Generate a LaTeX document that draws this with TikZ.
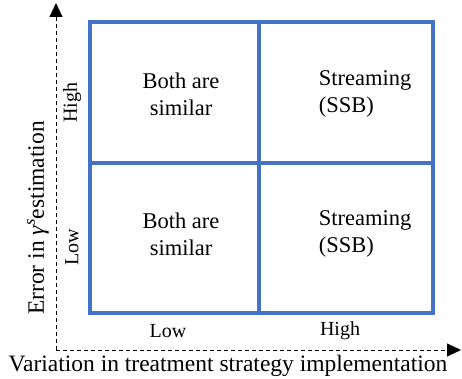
\documentclass[tikz,border=0pt]{standalone}
\usepackage{fontspec}
\setmainfont{Liberation Serif}
\usetikzlibrary{arrows.meta}
\definecolor{gridblue}{HTML}{4472C4}
\tikzset{
  grid line/.style={draw=gridblue, line width=3.2pt},
  axis line/.style={dash pattern=on 4pt off 3pt, line width=0.9pt,
    -{Triangle[length=14pt,width=13pt]}},
  cell text/.style={font=\rmfamily\fontsize{22.5}{27}\selectfont, align=center},
  level text/.style={font=\rmfamily\fontsize{20}{24}\selectfont},
  axis text/.style={font=\rmfamily\fontsize{23.5}{28}\selectfont},
}
\begin{document}
\begin{tikzpicture}[x=1pt,y=-1pt]
\useasboundingbox (0,0) rectangle (462,379);
% axes
\coordinate (o) at (56,350);
\coordinate (ytop) at (56,3);
\coordinate (xend) at (461,350);
\draw[axis line] (o) -- (ytop);
\draw[axis line] (o) -- (xend);
% 2x2 grid
\draw[grid line] (90,22) rectangle (433,313);
\draw[grid line] (259,22) -- (259,313);
\draw[grid line] (90,163) -- (433,163);
% cell contents
\node[cell text] (tl) at (181,94) {Both are\\similar};
\node[cell text, align=left] (tr) at (365,94) {Streaming\\(SSB)};
\node[cell text] (bl) at (181,234) {Both are\\similar};
\node[cell text, align=left] (br) at (365,234) {Streaming\\(SSB)};
% level labels
\node[level text, rotate=90] (yhigh) at (72,103) {High};
\node[level text, rotate=90] (ylow) at (72,247) {Low};
\node[level text] (xlow) at (168,331) {Low};
\node[level text] (xhigh) at (340,331) {High};
% axis titles
\node[axis text, rotate=90] (ytitle) at (38,218)
  {Error in {\itshape γ}\textsuperscript{\itshape s}estimation};
\node[axis text] (xtitle) at (228,366) {Variation in treatment strategy implementation};
\end{tikzpicture}
\end{document}
